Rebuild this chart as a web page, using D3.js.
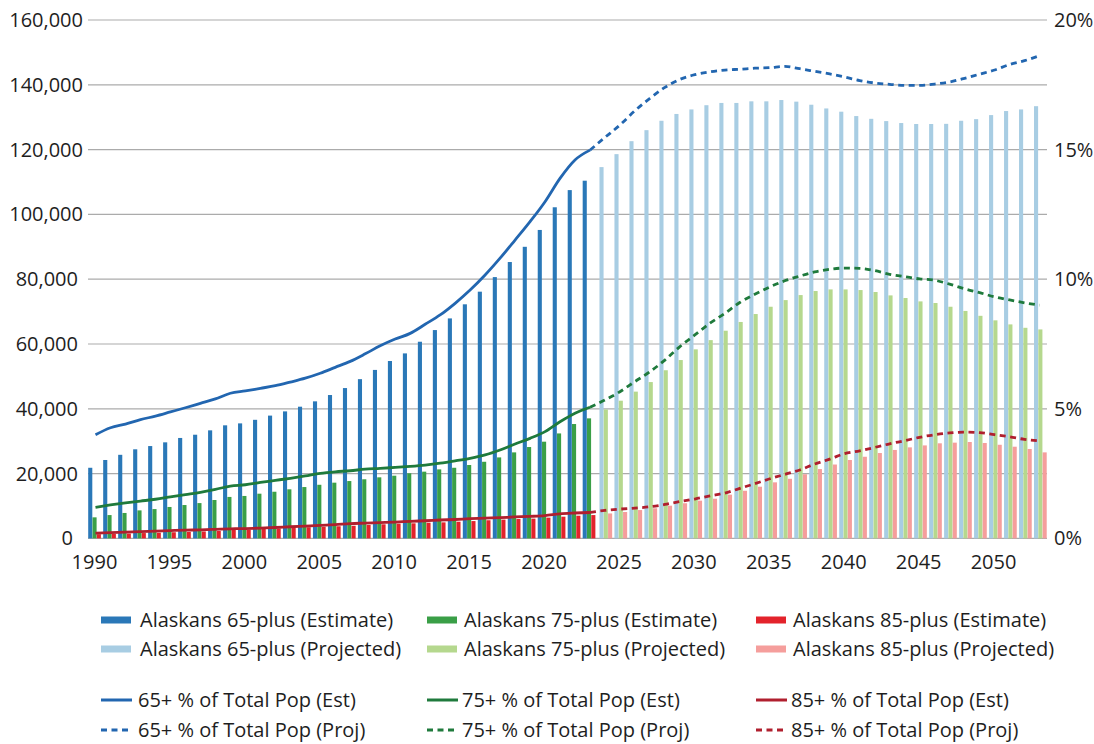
<!DOCTYPE html>
<html>
<head>
<meta charset="utf-8">
<script src="https://cdn.jsdelivr.net/npm/d3@7/dist/d3.min.js"></script>
<style>
  html, body { margin: 0; padding: 0; background: #fff; }
  svg { display: block; font-family: "Open Sans", "Noto Sans", sans-serif; }
</style>
</head>
<body>
<svg id="chart" width="1094" height="744"></svg>
<script>
// ---------- DATA ----------
const years = [1990,1991,1992,1993,1994,1995,1996,1997,1998,1999,
  2000,2001,2002,2003,2004,2005,2006,2007,2008,2009,
  2010,2011,2012,2013,2014,2015,2016,2017,2018,2019,
  2020,2021,2022,2023,2024,2025,2026,2027,2028,2029,
  2030,2031,2032,2033,2034,2035,2036,2037,2038,2039,
  2040,2041,2042,2043,2044,2045,2046,2047,2048,2049,
  2050,2051,2052,2053];
const estYears = years.slice(0, 34);      // 1990-2023
const projYears = years.slice(34);        // 2024-2053
const projLineYears = years.slice(33);    // 2023-2053

const est65 = [21800,24200,25800,27500,28500,29650,31000,32000,33350,34900,
  35500,36600,37900,39200,40650,42300,44250,46400,49150,52000,
  54750,57100,60700,64300,67900,72250,76150,80650,85300,90000,
  95200,102200,107500,110400];
const proj65 = [114600,118600,122600,126000,128900,131000,132400,133700,134400,134400,
  134900,134900,135300,134800,133850,132700,131700,130350,129500,128800,
  128200,127900,127900,127950,128900,129400,130650,131900,132400,133400];

const est75 = [6500,7200,7850,8650,9050,9700,10300,10900,11850,12800,
  13100,13800,14400,15150,15850,16550,17200,17700,18250,18850,
  19350,20100,20600,21300,21800,22650,23650,25000,26550,28200,
  29850,32400,35300,37050];
const proj75 = [39800,42500,45300,48250,51900,55050,58350,61200,64100,66800,
  69250,71500,73550,75100,76350,76850,76850,76650,76050,75000,
  74200,73150,72650,71500,70200,68700,67300,66050,65000,64500];

const est85 = [1300,1400,1500,1650,1750,1900,2000,2150,2280,2600,
  2650,2900,3050,3300,3450,3600,3750,3900,4150,4350,
  4550,4650,4850,4950,5150,5350,5600,5800,6000,6100,
  6400,6700,7000,7200];
const proj85 = [7700,8150,8750,9300,10100,10850,11650,12250,13500,14700,
  15950,17300,18400,19800,21400,22800,24200,25200,26350,27300,
  28100,28700,29350,29550,29750,29450,28900,28300,27600,26550];

// percent of total population
const pct65Est = [4.0,4.27,4.41,4.58,4.72,4.88,5.04,5.21,5.38,5.6,
  5.69,5.79,5.89,6.03,6.18,6.37,6.6,6.83,7.12,7.43,
  7.69,7.91,8.26,8.62,9.07,9.58,10.16,10.81,11.51,12.22,
  12.99,13.89,14.6,14.98];
const pct65Proj = [14.98,15.47,15.95,16.5,16.98,17.4,17.71,17.89,18.0,18.07,
  18.1,18.14,18.16,18.21,18.12,18.02,17.92,17.8,17.66,17.57,
  17.52,17.48,17.48,17.53,17.61,17.75,17.91,18.07,18.28,18.43,18.62];

const pct75Est = [1.2,1.29,1.37,1.44,1.51,1.6,1.69,1.78,1.89,2.02,
  2.07,2.16,2.24,2.32,2.41,2.51,2.57,2.61,2.67,2.7,
  2.74,2.78,2.83,2.9,2.99,3.09,3.22,3.41,3.64,3.86,
  4.12,4.5,4.83,5.06];
const pct75Proj = [5.06,5.34,5.66,6.05,6.43,6.88,7.4,7.85,8.3,8.68,
  9.1,9.42,9.7,9.94,10.12,10.28,10.38,10.43,10.42,10.33,
  10.19,10.1,10.01,9.96,9.81,9.63,9.48,9.32,9.2,9.09,9.0];

const pct85Est = [0.2,0.22,0.24,0.26,0.28,0.3,0.32,0.33,0.35,0.37,
  0.38,0.4,0.42,0.45,0.47,0.5,0.53,0.57,0.59,0.61,
  0.63,0.66,0.68,0.71,0.73,0.76,0.78,0.8,0.83,0.85,
  0.88,0.95,0.98,1.0];
const pct85Proj = [1.0,1.08,1.13,1.17,1.22,1.31,1.42,1.52,1.64,1.75,
  1.93,2.11,2.3,2.47,2.64,2.87,3.06,3.27,3.38,3.51,
  3.65,3.77,3.9,4.0,4.07,4.1,4.08,4.0,3.92,3.82,3.76];

const leftTicks = [0,20000,40000,60000,80000,100000,120000,140000,160000];
const rightTicks = [0,5,10,15,20];
const xTickYears = [1990,1995,2000,2005,2010,2015,2020,2025,2030,2035,2040,2045,2050];

const barLegend = [
  "Alaskans 65-plus (Estimate)", "Alaskans 75-plus (Estimate)", "Alaskans 85-plus (Estimate)",
  "Alaskans 65-plus (Projected)", "Alaskans 75-plus (Projected)", "Alaskans 85-plus (Projected)"];
const lineLegend = [
  "65+ % of Total Pop (Est)", "75+ % of Total Pop (Est)", "85+ % of Total Pop (Est)",
  "65+ % of Total Pop (Proj)", "75+ % of Total Pop (Proj)", "85+ % of Total Pop (Proj)"];

// ---------- STYLE ----------
const C = {
  est: ["#2a78b8", "#3a9f47", "#e3232b"],
  proj: ["#a8cde3", "#b5d88e", "#f59e9c"],
  line: ["#2266b0", "#1f7a3c", "#b01f2e"],
  grid: "#ababab",
  text: "#1e1e1e"
};

const svg = d3.select("#chart");
const L = 88, R = 1047, T = 20, B = 538.4;

const x = d3.scaleBand().domain(years).range([L, R]).padding(0);
const yL = d3.scaleLinear().domain([0, 160000]).range([B, T]);
const yR = d3.scaleLinear().domain([0, 20]).range([B, T]);

// gridlines
svg.append("g").selectAll("line").data(leftTicks).join("line")
  .attr("x1", L).attr("x2", R)
  .attr("y1", d => yL(d)).attr("y2", d => yL(d))
  .attr("stroke", C.grid).attr("stroke-width", 1.2);

// left axis
const fmt = d3.format(",");
const leftAxis = d3.axisLeft(yL).tickValues(leftTicks).tickFormat(fmt).tickSize(0).tickPadding(0);
const gl = svg.append("g").attr("transform", `translate(83,0)`).call(leftAxis);
gl.select(".domain").remove();
gl.selectAll("text").attr("font-size", 20).attr("fill", C.text)
  .attr("font-family", "Open Sans")
  .attr("dx", d => { const n = fmt(d).length; return n >= 7 ? 0 : (n >= 6 ? -5 : -10); });

// right axis
const rightAxis = d3.axisRight(yR).tickValues(rightTicks).tickFormat(d => d + "%").tickSize(0).tickPadding(0);
const gr = svg.append("g").attr("transform", `translate(1054,0)`).call(rightAxis);
gr.select(".domain").remove();
gr.selectAll("text").attr("font-size", 20).attr("fill", C.text).attr("font-family", "Open Sans");

// bottom axis
const bottomAxis = d3.axisBottom(x).tickValues(xTickYears).tickSize(0).tickPadding(0);
const gb = svg.append("g").attr("transform", `translate(-1,555)`).call(bottomAxis);
gb.select(".domain").remove();
gb.selectAll("text").attr("font-size", 20).attr("fill", C.text).attr("font-family", "Open Sans");

// bars
const bw = 4.1;
const estOff = [0.2, 4.5, 8.8];
const projOff = [2.0, 6.3, 10.6];
const estSeries = [est65, est75, est85];
const projSeries = [proj65, proj75, proj85];
const gBars = svg.append("g");
estSeries.forEach((vals, i) => {
  gBars.append("g").selectAll("rect").data(vals).join("rect")
    .attr("x", (d, j) => x(estYears[j]) + estOff[i])
    .attr("width", bw)
    .attr("y", d => yL(d))
    .attr("height", d => yL(0) - yL(d))
    .attr("fill", C.est[i]);
});
projSeries.forEach((vals, i) => {
  gBars.append("g").selectAll("rect").data(vals).join("rect")
    .attr("x", (d, j) => x(projYears[j]) + projOff[i])
    .attr("width", bw)
    .attr("y", d => yL(d))
    .attr("height", d => yL(0) - yL(d))
    .attr("fill", C.proj[i]);
});

// lines
const cx = yr => x(yr) + x.bandwidth() / 2;
const lineGen = (yrs) => d3.line()
  .x((d, j) => cx(yrs[j]))
  .y(d => yR(d))
  .curve(d3.curveMonotoneX);

const estLines = [pct65Est, pct75Est, pct85Est];
const projLines = [pct65Proj, pct75Proj, pct85Proj];
const gLines = svg.append("g");
estLines.forEach((vals, i) => {
  gLines.append("path").datum(vals)
    .attr("d", lineGen(estYears))
    .attr("fill", "none").attr("stroke", C.line[i])
    .attr("stroke-width", 2.8);
});
projLines.forEach((vals, i) => {
  gLines.append("path").datum(vals)
    .attr("d", lineGen(projLineYears))
    .attr("fill", "none").attr("stroke", C.line[i])
    .attr("stroke-width", 2.8)
    .attr("stroke-dasharray", "6,4.5");
});

// legend
const colX = [101, 427, 756];
const txtX = [140, 464, 793];
const rowY = [620, 649, 700, 730];
const gLeg = svg.append("g").attr("font-size", 20).attr("fill", C.text);
barLegend.forEach((label, k) => {
  const c = k % 3, r = Math.floor(k / 3);
  gLeg.append("rect").attr("x", colX[c]).attr("y", rowY[r] - 3.5)
    .attr("width", 30).attr("height", 7)
    .attr("fill", r === 0 ? C.est[c] : C.proj[c]);
  gLeg.append("text").attr("x", txtX[c]).attr("y", rowY[r])
    .attr("dy", "0.35em").text(label);
});
lineLegend.forEach((label, k) => {
  const c = k % 3, r = Math.floor(k / 3);
  gLeg.append("line").attr("x1", colX[c]).attr("x2", colX[c] + 31)
    .attr("y1", rowY[2 + r]).attr("y2", rowY[2 + r])
    .attr("stroke", C.line[c]).attr("stroke-width", 3)
    .attr("stroke-dasharray", r === 1 ? "6,4.5" : null);
  gLeg.append("text").attr("x", txtX[c] - 2).attr("y", rowY[2 + r])
    .attr("dy", "0.35em").text(label);
});
</script>
</body>
</html>
